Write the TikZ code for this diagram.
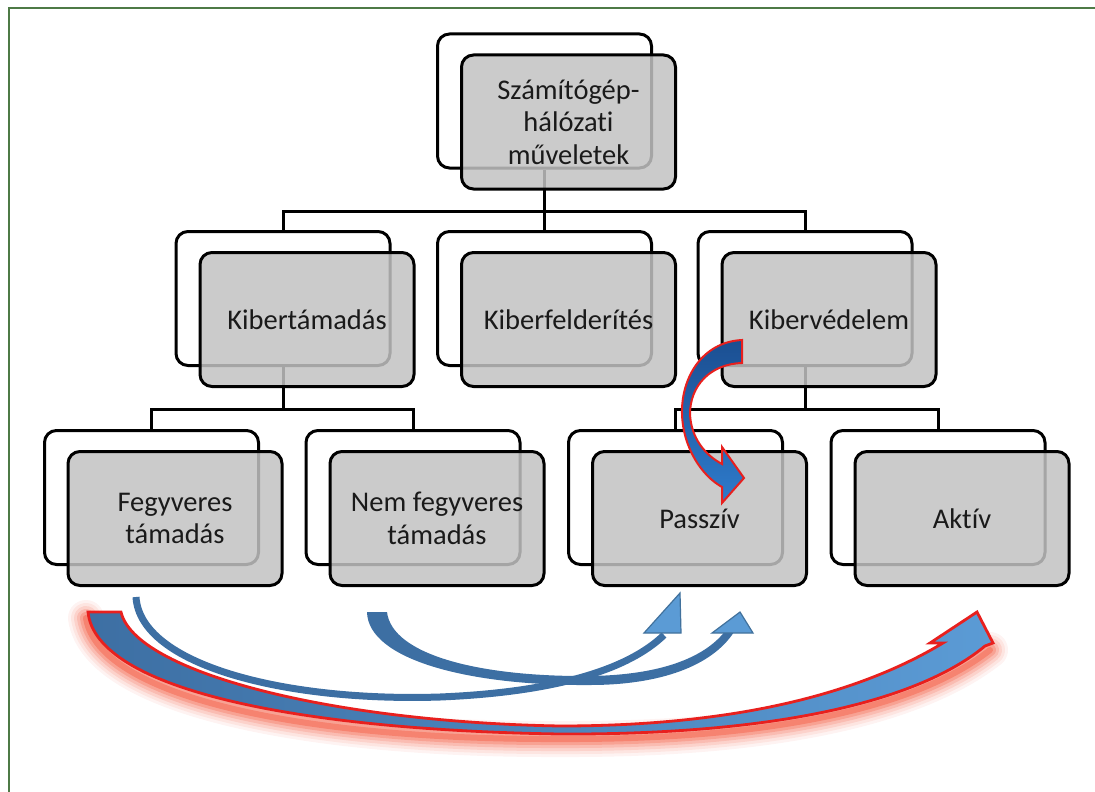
\documentclass[tikz,border=0pt]{standalone}
\usepackage{fontspec}
\setmainfont[Ligatures=NoCommon]{Carlito}
\definecolor{boxgray}{gray}{0.76}
\definecolor{textc}{HTML}{1A1A1A}
\definecolor{framegreen}{HTML}{4E7A46}
\definecolor{arrred}{HTML}{E8201E}
\definecolor{glowred}{HTML}{F03A1C}
\definecolor{arcblue}{HTML}{3D6FA3}
\definecolor{headblue}{HTML}{5B9BD5}
\definecolor{headline}{HTML}{41719C}
\definecolor{darkblue}{HTML}{1B4F92}
\definecolor{midblue}{HTML}{2E7BCB}
\begin{document}
\begin{tikzpicture}[x=1pt,y=-1pt,
  back/.style={draw=black, line width=3pt, rounded corners=12pt, fill=white,
    minimum width=214pt, minimum height=134pt, inner sep=0pt},
  front/.style={draw=black, line width=3pt, rounded corners=12pt, fill=boxgray,
    fill opacity=0.85, text opacity=1, minimum width=214pt, minimum height=134pt,
    inner sep=0pt, align=center, font=\fontsize{28.5}{32.5}\selectfont, text=textc},
  conn/.style={line width=3pt, draw=black},
  glow/.style={draw=glowred, line cap=round},
  thinarc/.style={draw=arcblue, line width=7pt},
  arrhead/.style={fill=headblue, draw=headline, line width=1.2pt, line join=miter},
]
\path[use as bounding box] (0,0) rectangle (1095,792);
\draw[framegreen, line width=2.6pt] (9,792) -- (9,8) -- (1095,8);

% back boxes
\node[back] (b0) at (544.5,101) {};
\node[back] (b1) at (283,298.5) {};
\node[back] (b2) at (544.5,298.5) {};
\node[back] (b3) at (805,298.5) {};
\node[back] (b4) at (151.5,497.5) {};
\node[back] (b5) at (413,497.5) {};
\node[back] (b6) at (675.5,497.5) {};
\node[back] (b7) at (938,497.5) {};

% connectors
\coordinate (bus0) at (544.5,211);
\coordinate (bus1) at (283,409);
\coordinate (bus3) at (805,409);
\draw[conn] (b0.south) -- (bus0);
\draw[conn] (b1.north) |- (bus0) -| (b3.north);
\draw[conn] (bus0) -- (b2.north);
\draw[conn] (b1.south) -- (bus1);
\draw[conn] (b4.north) |- (bus1) -| (b5.north);
\draw[conn] (b3.south) -- (bus3);
\draw[conn] (b6.north) |- (bus3) -| (b7.north);

% front boxes
\node[front] (f0) at (568.5,122) {Számítógép-\\hálózati\\műveletek};
\node[front] (f1) at (307,319.5) {Kibertámadás};
\node[front] (f2) at (568.5,319.5) {Kiberfelderítés};
\node[front] (f3) at (829,319.5) {Kibervédelem};
\node[front] (f4) at (175,518.5) {Fegyveres\\támadás};
\node[front] (f5) at (437,518.5) {Nem fegyveres\\támadás};
\node[front] (f6) at (699.5,518.5) {Passzív};
\node[front] (f7) at (962,518.5) {Aktív};

% curved arrow from Kibervédelem to Passzív
\path[draw=arrred, line width=2pt, line join=miter, top color=darkblue, bottom color=midblue]
  (742,340) .. controls (702,342) and (681,378) .. (682,414)
  .. controls (683,448) and (702,476) .. (722,487)
  -- (722,503) -- (744,478) -- (722,447) -- (722,464)
  .. controls (705,455) and (691,438) .. (690,414)
  .. controls (690,386) and (710,364) .. (742,363) -- cycle;

% red glow under big arrow
\foreach \w/\o in {36/0.06, 30/0.08, 24/0.11, 18/0.15, 12/0.2, 6/0.3}{
  \draw[glow, line width=\w pt, opacity=\o]
    (86,618) .. controls (98,696) and (300,740) .. (560,739)
    .. controls (780,740) and (920,705) .. (990,650);
}
% big red-outlined arrow Fegyveres -> Aktiv
\path[draw=arrred, line width=2.8pt, line join=miter, left color=arcblue, right color=headblue]
  (88,612) -- (121,612) .. controls (135,672) and (330,722) .. (560,726)
  .. controls (760,726) and (875,684) .. (943,643)
  -- (930,643) -- (977,612) -- (993,643) -- (985,646)
  .. controls (920,700) and (780,735) .. (560,734)
  .. controls (300,730) and (96,690) .. (88,612) -- cycle;

% thick arc Nem fegyveres -> Passziv
\fill[arcblue]
  (367,612) -- (387,612) .. controls (392,655) and (480,677) .. (590,676)
  .. controls (660,675) and (705,658) .. (726,630)
  -- (734,632)
  .. controls (712,666) and (660,685) .. (590,685)
  .. controls (470,686) and (368,660) .. (367,612) -- cycle;
\filldraw[arrhead] (712,633) -- (740,612) -- (753,633) -- cycle;

% thin arc Fegyveres -> Passziv
\draw[thinarc] (136,597) .. controls (140,665) and (285,702) .. (440,697)
  .. controls (560,692) and (630,668) .. (664,635);
\filldraw[arrhead] (644,633) -- (680,593) -- (681,633) -- cycle;
\end{tikzpicture}
\end{document}
